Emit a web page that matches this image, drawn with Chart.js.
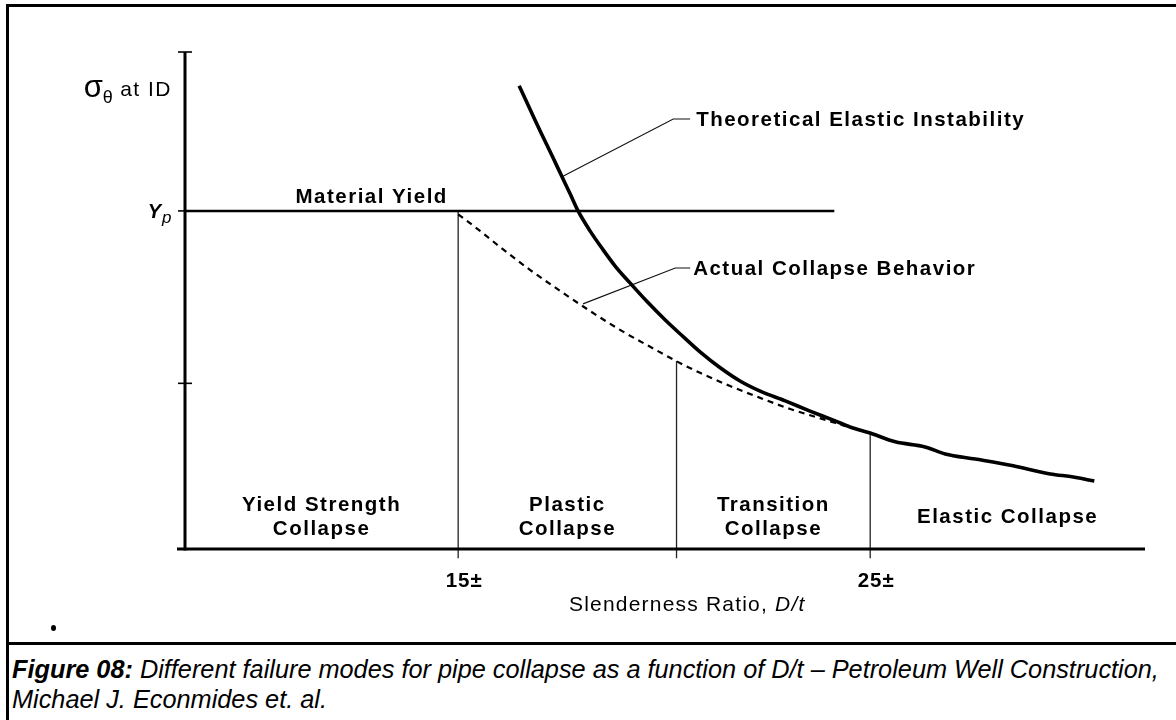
<!DOCTYPE html>
<html>
<head>
<meta charset="utf-8">
<script src="https://cdn.jsdelivr.net/npm/chart.js@4.4.1/dist/chart.umd.min.js"></script>
<style>
  html, body { margin: 0; padding: 0; background: #fff; width: 1176px; height: 720px; overflow: hidden; }
  #frame { position: absolute; left: 6px; top: 4px; width: 1300px; height: 800px; border-left: 3px solid #000; border-top: 3px solid #000; box-sizing: border-box; }
  #sep { position: absolute; left: 6px; top: 642px; width: 1300px; height: 3px; background: #000; }
  #dot { position: absolute; left: 51px; top: 625px; width: 5px; height: 6px; border-radius: 50%; background: #000; }
  #chart { position: absolute; left: 0; top: 0; }
  #caption { position: absolute; left: 12px; top: 654px; font-family: "Liberation Sans", Arial, sans-serif; font-style: italic; font-size: 25.3px; line-height: 30px; color: #000; white-space: nowrap; }
  #caption b { font-weight: bold; }
</style>
</head>
<body>
<div id="frame"></div>
<div id="sep"></div>
<div id="dot"></div>
<canvas id="chart" width="1176" height="643"></canvas>
<div id="caption"><b>Figure 08:</b> Different failure modes for pipe collapse as a function of D/t – Petroleum Well Construction,<br>Michael J. Econmides et. al.</div>
<script>
// ---- data ----
// Theoretical elastic instability curve: D/t vs hoop stress (% of Yp)
const theoDt     = [16.48, 16.75, 17.01, 17.28, 17.52, 17.72, 17.91, 18.20, 18.50, 18.81, 19.17, 19.59, 20.02, 20.39, 20.87, 21.36, 21.84, 22.33, 22.94, 23.54, 24.15, 24.51, 25.00, 25.61, 26.33, 26.82, 27.55, 28.47, 29.37, 29.93, 30.44];
const theoStress = [137.0, 129.9, 123.1, 116.3, 110.1, 105.0, 100.0, 94.1, 88.8, 83.7, 78.7, 73.1, 67.8, 63.6, 58.3, 53.6, 49.7, 46.7, 43.8, 40.8, 37.9, 36.1, 34.3, 31.7, 30.2, 28.1, 26.6, 24.6, 22.2, 21.3, 20.1];
// Actual collapse behaviour (dashed)
const actDt      = [15.00, 15.53, 16.02, 16.75, 17.48, 18.20, 18.93, 19.66, 20.29, 20.87, 21.60, 22.33, 23.06, 23.67, 24.39];
const actStress  = [99.0, 94.1, 89.3, 82.5, 76.3, 70.4, 64.8, 59.8, 55.6, 52.1, 48.2, 44.7, 41.4, 39.1, 36.4];
// Material yield level and where its line ends
const yieldStress = 100;
const yieldEndDt  = 24.13;
// Failure-mode boundaries on the D/t axis and where each boundary line starts
const boundaryDt     = [15, 20.3, 25];
const boundaryTop    = [100, 55.6, 34.3];
const boundaryBottom = -2.7;
const xTickLabels    = ['15±', '', '25±'];
const regionLabels   = [['Yield Strength', 'Collapse'], ['Plastic', 'Collapse'], ['Transition', 'Collapse'], ['Elastic Collapse']];
const yTicks = [49, 100, 147];
const xMin = 8.37, xMax = 31.67, yMin = 0, yMax = 147;
// leader lines for the curve labels
const theoLeaderDt = [17.52, 20.22, 20.63], theoLeaderStress = [110.1, 127.2, 127.2];
const actLeaderDt  = [18.03, 20.27, 20.63], actLeaderStress  = [72.5, 83.1, 83.1];

const pts = (xs, ys) => xs.map((v, i) => ({ x: v, y: ys[i] }));
const FONT = '"Liberation Sans", Arial, sans-serif';

const datasets = [
  { data: pts(theoDt, theoStress), borderColor: '#000', borderWidth: 3.6, cubicInterpolationMode: 'monotone', pointRadius: 0, clip: false },
  { data: pts(actDt, actStress), borderColor: '#000', borderWidth: 2.2, borderDash: [6, 5], cubicInterpolationMode: 'monotone', pointRadius: 0, clip: false },
  { data: pts([xMin, yieldEndDt], [yieldStress, yieldStress]), borderColor: '#000', borderWidth: 2.5, pointRadius: 0, tension: 0, clip: false },
  { data: pts(theoLeaderDt, theoLeaderStress), borderColor: '#111', borderWidth: 1.1, pointRadius: 0, tension: 0, clip: false },
  { data: pts(actLeaderDt, actLeaderStress), borderColor: '#111', borderWidth: 1.1, pointRadius: 0, tension: 0, clip: false }
];
boundaryDt.forEach((b, i) => {
  datasets.push({ data: pts([b, b], [boundaryTop[i], boundaryBottom]), borderColor: '#222', borderWidth: 1.3, pointRadius: 0, tension: 0, clip: false });
});

function text(ctx, s, px, py, font, align, spacing, baseline) {
  ctx.font = font;
  ctx.textAlign = align || 'center';
  ctx.textBaseline = baseline || 'middle';
  try { ctx.letterSpacing = spacing || '1.5px'; } catch (e) {}
  ctx.fillText(s, px, py);
}

const overlay = {
  id: 'overlay',
  afterDatasetsDraw(chart) {
    const { ctx, scales: { x, y } } = chart;
    const X = v => x.getPixelForValue(v), Y = v => y.getPixelForValue(v);
    const x0 = X(xMin), y0 = Y(0);
    ctx.save();
    ctx.strokeStyle = '#000';
    ctx.fillStyle = '#000';
    // axes
    ctx.lineWidth = 3;
    ctx.beginPath(); ctx.moveTo(x0, y0 + 1.5); ctx.lineTo(x0, Y(yMax)); ctx.stroke();
    ctx.beginPath(); ctx.moveTo(x0 - 8, y0); ctx.lineTo(X(xMax), y0); ctx.stroke();
    // y ticks
    ctx.lineWidth = 1.6;
    yTicks.forEach((t) => {
      const right = (t === yieldStress) ? x0 : x0 + 7;
      ctx.beginPath(); ctx.moveTo(x0 - 7, Y(t)); ctx.lineTo(right, Y(t)); ctx.stroke();
    });
    // y axis label: sigma_theta at ID
    const right = x0 - 13, base = Y(yMax) + 45;
    const f1 = 'normal 31px ' + FONT, f2 = 'normal 18px ' + FONT, f3 = 'normal 21px ' + FONT;
    try { ctx.letterSpacing = '0px'; } catch (e) {}
    ctx.font = f1; const w1 = ctx.measureText('σ').width;
    ctx.font = f2; const w2 = ctx.measureText('θ').width;
    try { ctx.letterSpacing = '1.5px'; } catch (e) {}
    ctx.font = f3; const w3 = ctx.measureText(' at ID').width;
    let sx = right - (w1 + w2 + w3);
    text(ctx, 'σ', sx, base, f1, 'left', '0px', 'alphabetic'); sx += w1;
    text(ctx, 'θ', sx, base + 6, f2, 'left', '0px', 'alphabetic'); sx += w2;
    text(ctx, ' at ID', sx, base - 1, f3, 'left', '1.5px', 'alphabetic');
    // Yp
    text(ctx, 'Y', x0 - 24, Y(yieldStress) + 7, 'italic bold 20px ' + FONT, 'right', '0px', 'alphabetic');
    text(ctx, 'p', x0 - 23, Y(yieldStress) + 12, 'italic 17px ' + FONT, 'left', '0px', 'alphabetic');
    // Material Yield
    const BOLD = 'bold 20.5px ' + FONT;
    text(ctx, 'Material Yield', X(12.9), Y(yieldStress) - 14, BOLD, 'center');
    // curve labels
    text(ctx, 'Theoretical Elastic Instability', X(theoLeaderDt[2]) + 6, Y(theoLeaderStress[2]) + 1, BOLD, 'left');
    text(ctx, 'Actual Collapse Behavior', X(actLeaderDt[2]) + 3, Y(actLeaderStress[2]) + 1, BOLD, 'left');
    // region labels
    const edges = [xMin].concat(boundaryDt, [xMax]);
    regionLabels.forEach((lines, i) => {
      const cx = (X(edges[i]) + X(edges[i + 1])) / 2;
      if (lines.length === 2) {
        text(ctx, lines[0], cx, y0 - 44, BOLD, 'center');
        text(ctx, lines[1], cx, y0 - 20, BOLD, 'center');
      } else {
        text(ctx, lines[0], cx, y0 - 32, BOLD, 'center');
      }
    });
    // x tick labels
    boundaryDt.forEach((b, i) => {
      if (xTickLabels[i]) text(ctx, xTickLabels[i], X(b) + 6, y0 + 32, BOLD, 'center', '1px');
    });
    // x axis title
    const fa = 'normal 21px ' + FONT, fb = 'italic 21px ' + FONT;
    try { ctx.letterSpacing = '1.2px'; } catch (e) {}
    ctx.font = fa; const wa = ctx.measureText('Slenderness Ratio, ').width;
    ctx.font = fb; const wb = ctx.measureText('D/t').width;
    const cx = X(20.56);
    text(ctx, 'Slenderness Ratio, ', cx - (wa + wb) / 2, y0 + 56, fa, 'left', '1.2px');
    text(ctx, 'D/t', cx - (wa + wb) / 2 + wa, y0 + 56, fb, 'left', '1.2px');
    ctx.restore();
  }
};

new Chart(document.getElementById('chart'), {
  type: 'line',
  data: { datasets },
  options: {
    responsive: false,
    animation: false,
    devicePixelRatio: 1,
    layout: { padding: { left: 185, right: 31, top: 52, bottom: 94 } },
    plugins: { legend: { display: false }, tooltip: { enabled: false }, title: { display: false } },
    scales: {
      x: { type: 'linear', min: xMin, max: xMax, display: false },
      y: { type: 'linear', min: yMin, max: yMax, display: false }
    }
  },
  plugins: [overlay]
});
</script>
</body>
</html>
